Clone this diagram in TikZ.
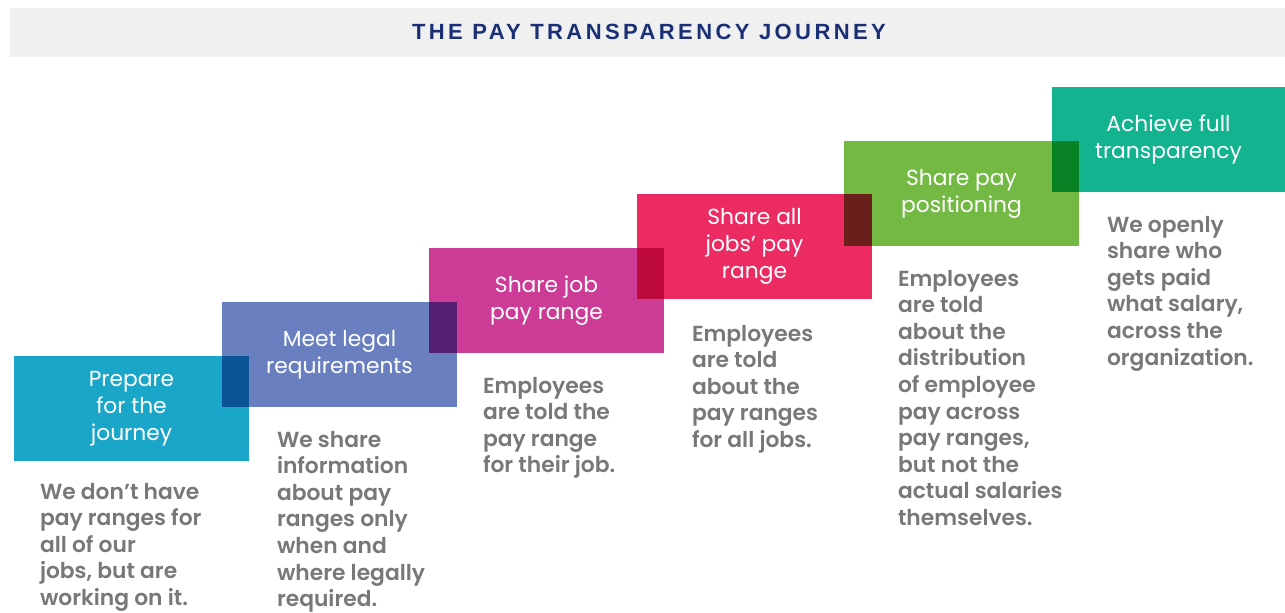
\documentclass[tikz,border=0pt]{standalone}
\usepackage{fontspec}
\setmainfont{Poppins}
\newfontfamily\titlefont{Liberation Sans}[LetterSpace=15.5]
\IfFontExistsTF{Poppins SemiBold}
  {\newfontfamily\descfont{Poppins SemiBold}}
  {\newfontfamily\descfontbase{Poppins}\newcommand\descfont{\descfontbase\bfseries}}
\newfontfamily\labelfont{Poppins}

% step colours
\definecolor{barbg}{RGB}{240,240,240}
\definecolor{titleblue}{RGB}{27,47,117}
\definecolor{descgrey}{RGB}{120,120,120}
\definecolor{cA}{RGB}{26,166,201}
\definecolor{cB}{RGB}{106,127,192}
\definecolor{cC}{RGB}{204,60,150}
\definecolor{cD}{RGB}{236,43,98}
\definecolor{cE}{RGB}{115,185,68}
\definecolor{cF}{RGB}{20,179,143}
% where two neighbouring steps overlap (multiplied colours)
\definecolor{oAB}{RGB}{11,83,151}
\definecolor{oBC}{RGB}{85,30,113}
\definecolor{oCD}{RGB}{189,10,58}
\definecolor{oDE}{RGB}{106,31,26}
\definecolor{oEF}{RGB}{9,130,38}

\tikzset{
  stepbox/.style={rectangle, anchor=north west, inner sep=0pt, outer sep=0pt,
    minimum width=235pt, minimum height=105pt, align=center, text=white,
    font=\labelfont\fontsize{21.8}{27}\selectfont},
  desc/.style={anchor=north west, inner sep=0pt, outer sep=0pt, align=left,
    text=descgrey, font=\descfont\fontsize{21.8}{26.6}\selectfont},
}

\begin{document}
\begin{tikzpicture}[x=1pt,y=-1pt]
\useasboundingbox (0,0) rectangle (1285,613);

% title bar
\fill[barbg] (10,8) rectangle (1285,57);
\node[text=titleblue, font=\titlefont\bfseries\fontsize{22}{24}\selectfont, inner sep=0pt]
  (title) at (649,32) {THE PAY TRANSPARENCY JOURNEY};

% the six steps
\node[stepbox, fill=cA] (s1) at (14,356)  {Prepare\\for the\\journey};
\node[stepbox, fill=cB] (s2) at (222,302) {Meet legal\\requirements};
\node[stepbox, fill=cC] (s3) at (429,248) {Share job\\pay range};
\node[stepbox, fill=cD] (s4) at (637,194) {Share all\\jobs’ pay\\range};
\node[stepbox, fill=cE] (s5) at (844,141) {Share pay\\positioning};
\node[stepbox, fill=cF, minimum width=233pt] (s6) at (1052,87) {Achieve full\\transparency};

% overlaps
\fill[oAB] (s2.west |- s1.north) rectangle (s1.east |- s2.south);
\fill[oBC] (s3.west |- s2.north) rectangle (s2.east |- s3.south);
\fill[oCD] (s4.west |- s3.north) rectangle (s3.east |- s4.south);
\fill[oDE] (s5.west |- s4.north) rectangle (s4.east |- s5.south);
\fill[oEF] (s6.west |- s5.north) rectangle (s5.east |- s6.south);

% descriptions
\node[desc] (d1) at ([xshift=26pt,yshift=-22pt]s1.south west)
  {We don’t have\\pay ranges for\\all of our\\jobs, but are\\working on it.};
\node[desc] (d2) at ([xshift=55pt,yshift=-24pt]s2.south west)
  {We share\\information\\about pay\\ranges only\\when and\\where legally\\required.};
\node[desc] (d3) at ([xshift=54pt,yshift=-24pt]s3.south west)
  {Employees\\are told the\\pay range\\for their job.};
\node[desc] (d4) at ([xshift=55pt,yshift=-26pt]s4.south west)
  {Employees\\are told\\about the\\pay ranges\\for all jobs.};
\node[desc] (d5) at ([xshift=54pt,yshift=-24pt]s5.south west)
  {Employees\\are told\\about the\\distribution\\of employee\\pay across\\pay ranges,\\but not the\\actual salaries\\themselves.};
\node[desc] (d6) at ([xshift=55pt,yshift=-24pt]s6.south west)
  {We openly\\share who\\gets paid\\what salary,\\across the\\organization.};
\end{tikzpicture}
\end{document}
